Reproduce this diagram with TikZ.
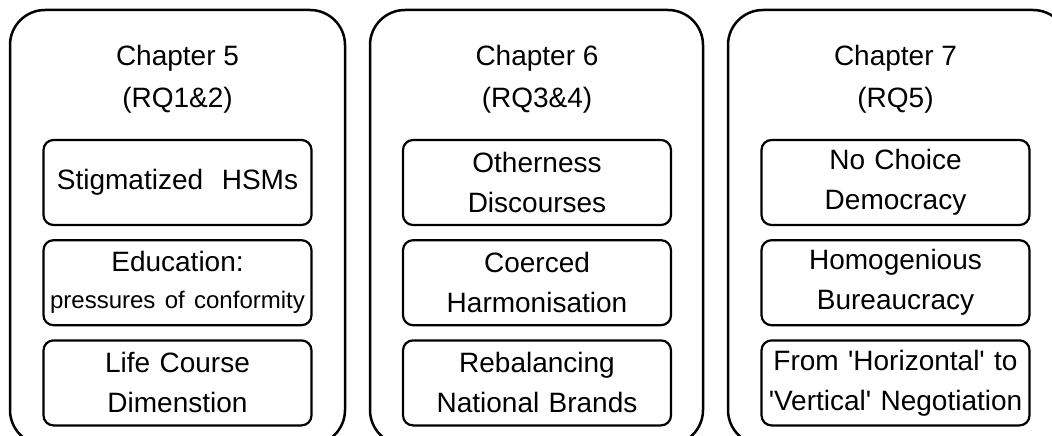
\documentclass[tikz,border=0pt]{standalone}
\usepackage{fontspec}
\setmainfont{Liberation Sans}
\usetikzlibrary{positioning}

\begin{document}
\begin{tikzpicture}[x=1pt,y=-1pt]
		\tikzstyle{chapbox}=[draw,line width=2.5pt,rounded corners=35pt,minimum height=435pt,inner sep=0pt]
		\tikzstyle{chaptitle}=[align=center,font=\fontsize{28}{42}\selectfont]
		\tikzstyle{topic}=[draw,line width=2.2pt,rounded corners=10pt,minimum width=268pt,minimum height=85pt,
		text width=262pt,align=center,inner sep=0pt,font=\fontsize{28}{40}\selectfont]
		\edef\gapsize{13pt}
		
		\useasboundingbox (0,0) rectangle (1052,436);
		
		%% Chapter 5
		\node [chapbox,minimum width=335pt] (cap5) at (177.5,227.5) {};
		\node [chaptitle] (title5) at (177.5,79) {Chapter 5\\(RQ1\&2)};
		\node [topic] (hsm) at (177.5,182.5) {Stigmatized~~HSMs};
		\node [topic,below=\gapsize of hsm] (educ) {Education:\\[-3pt]{\fontsize{24}{40}\selectfont pressures of conformity}};
		\node [topic,below=\gapsize of educ] (life) {Life Course\\Dimenstion};
		
		%% Chapter 6
		\node [chapbox,minimum width=333pt] (cap6) at (536.5,227.5) {};
		\node [chaptitle] (title6) at (537,79) {Chapter 6\\(RQ3\&4)};
		\node [topic] (other) at (537,182.5) {Otherness\\Discourses};
		\node [topic,below=\gapsize of other] (coerc) {Coerced\\Harmonisation};
		\node [topic,below=\gapsize of coerc] (brand) {Rebalancing\\National Brands};
		
		%% Chapter 7
		\node [chapbox,minimum width=340pt] (cap7) at (898,227.5) {};
		\node [chaptitle] (title7) at (895.5,79) {Chapter 7\\(RQ5)};
		\node [topic] (demo) at (895.5,182.5) {No Choice\\Democracy};
		\node [topic,below=\gapsize of demo] (bureau) {Homogenious\\Bureaucracy};
		\node [topic,below=\gapsize of bureau] (negot) {From \textquotesingle Horizontal\textquotesingle{} to\\\textquotesingle Vertical\textquotesingle{} Negotiation};
		
	\end{tikzpicture}
\end{document}
